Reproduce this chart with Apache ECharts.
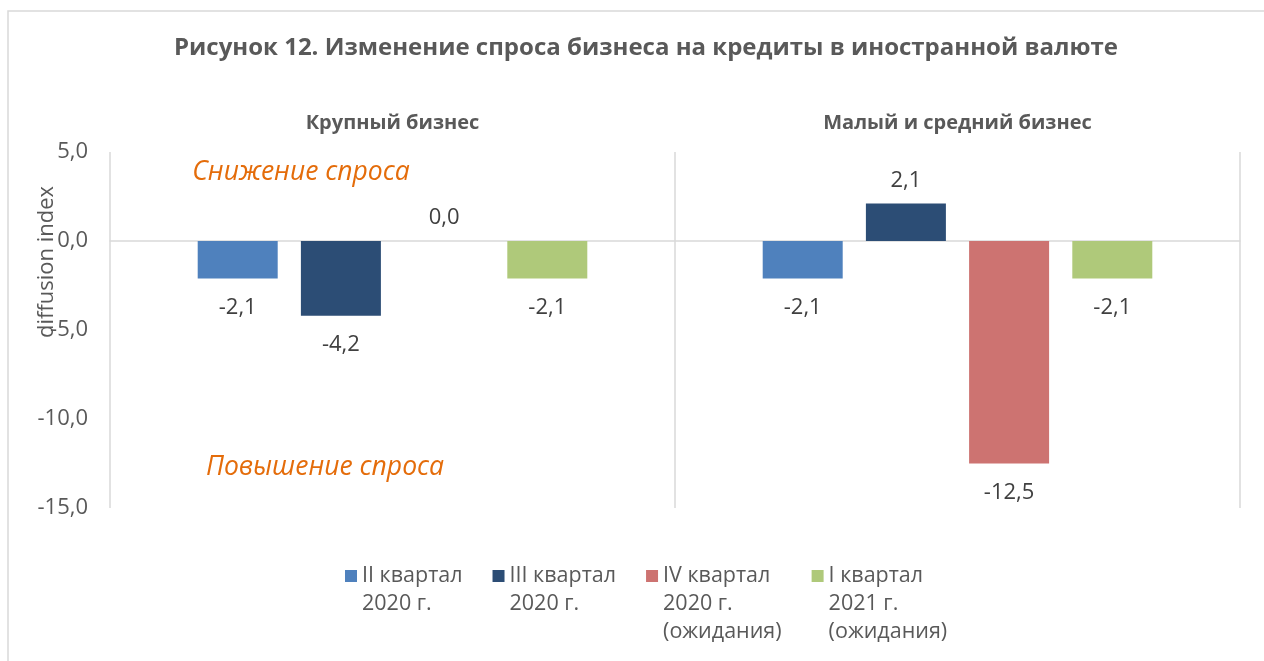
<!DOCTYPE html>
<html>
<head>
<meta charset="utf-8">
<script src="https://cdn.jsdelivr.net/npm/echarts@6/dist/echarts.min.js"></script>
<style>
  html, body { margin: 0; padding: 0; background: #fff; }
  #chart { width: 1264px; height: 661px; }
</style>
</head>
<body>
<div id="chart"></div>
<script>
var categories = ["Крупный бизнес", "Малый и средний бизнес"];
var seriesNames = ["II квартал\n2020 г.", "III квартал\n2020 г.", "IV квартал\n2020 г.\n(ожидания)", "I квартал\n2021 г.\n(ожидания)"];
var seriesColors = ["#4F81BD", "#2C4D75", "#CD7371", "#AFC97A"];
var q2_2020 = [-2.1, -2.1];
var q3_2020 = [-4.2, 2.1];
var q4_2020 = [0.0, -12.5];
var q1_2021 = [-2.1, -2.1];
var seriesValues = [q2_2020, q3_2020, q4_2020, q1_2021];

var fontName = "Open Sans";
var lineH = 28;

function fmt(v) {
    return Number(v).toFixed(1).replace(".", ",");
}

var chart = echarts.init(document.getElementById("chart"));

var series = [];
seriesNames.forEach(function (name, i) {
    series.push({
        name: name,
        type: "bar",
        // 0以上は上、負の値は下にラベル
        data: seriesValues[i].map(function (v) {
            return {
                value: v,
                label: v >= 0 ? { position: "top", distance: 12 } : { position: "bottom", distance: 18 }
            };
        }),
        barWidth: 80,
        barGap: "29%",
        itemStyle: { color: seriesColors[i] },
        label: {
            show: true,
            fontSize: 22,
            color: "#404040",
            fontFamily: fontName,
            formatter: function (p) { return fmt(p.value); }
        }
    });
});

chart.setOption({
    animation: false,
    textStyle: { fontFamily: fontName },
    title: {
        text: "Рисунок 12. Изменение спроса бизнеса на кредиты в иностранной валюте",
        left: 641,
        textAlign: "center",
        top: 31,
        textStyle: { fontSize: 24, fontWeight: "bold", color: "#595959", fontFamily: fontName }
    },
    legend: {
        data: seriesNames,
        left: 340,
        top: 501,
        itemWidth: 12,
        itemHeight: 12,
        itemGap: 30,
        icon: "rect",
        // 一行目をアイコンの高さに合わせるため、上に空行を足す
        formatter: function (name) {
            var n = name.split("\n").length;
            return new Array(n).join("\n") + name;
        },
        textStyle: { fontSize: 21.5, color: "#595959", lineHeight: lineH, fontFamily: fontName }
    },
    grid: { left: 110, right: 24, top: 152, bottom: 153 },
    xAxis: [{
        type: "category",
        data: categories,
        position: "top",
        axisLine: { show: false, onZero: false },
        axisTick: { show: false },
        axisLabel: { margin: 19, fontSize: 20, fontWeight: "bold", color: "#595959" },
        splitLine: { show: true, lineStyle: { color: "#D9D9D9", width: 1.5 } }
    }, {
        type: "category",
        data: categories,
        position: "bottom",
        axisLine: { show: true, onZero: true, lineStyle: { color: "#D9D9D9", width: 1.5 } },
        axisTick: { show: false },
        axisLabel: { show: false },
        splitLine: { show: false }
    }],
    yAxis: {
        type: "value",
        min: -15,
        max: 5,
        interval: 5,
        axisLine: { show: false },
        axisTick: { show: false },
        splitLine: { show: false },
        axisLabel: {
            margin: 22,
            fontSize: 22,
            color: "#595959",
            formatter: function (v) { return fmt(v); }
        }
    },
    graphic: [{
        type: "rect",
        silent: true,
        shape: { x: 8, y: 11, width: 1400, height: 800 },
        style: { fill: "none", stroke: "#D9D9D9", lineWidth: 1.5 }
    }, {
        type: "text",
        x: 47,
        y: 262,
        rotation: Math.PI / 2,
        style: {
            text: "diffusion index",
            fontSize: 22,
            fill: "#595959",
            fontFamily: fontName,
            align: "center",
            verticalAlign: "middle"
        }
    }, {
        type: "text",
        x: 301,
        y: 172,
        style: {
            text: "Снижение спроса",
            fontSize: 26.5,
            fontStyle: "italic",
            fill: "#E46C0A",
            fontFamily: fontName,
            align: "center",
            verticalAlign: "middle"
        }
    }, {
        type: "text",
        x: 325,
        y: 467,
        style: {
            text: "Повышение спроса",
            fontSize: 26.5,
            fontStyle: "italic",
            fill: "#E46C0A",
            fontFamily: fontName,
            align: "center",
            verticalAlign: "middle"
        }
    }],
    series: series
});
</script>
</body>
</html>
